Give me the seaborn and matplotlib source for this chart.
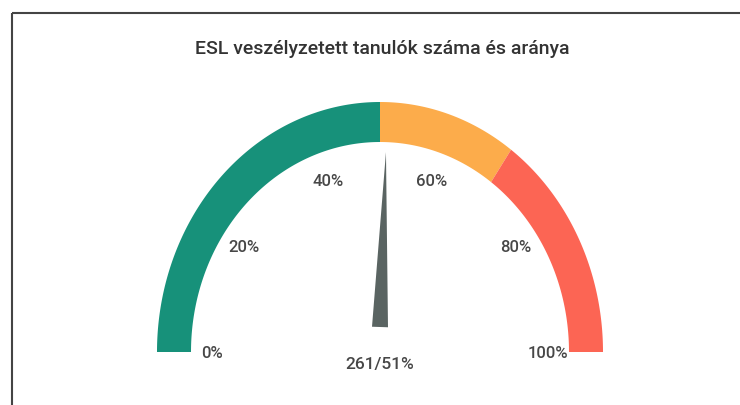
import numpy as np
import matplotlib
matplotlib.use("Agg")
import matplotlib.pyplot as plt
import seaborn as sns

# ---- data ----
title = "ESL veszélyzetett tanulók száma és aránya"
segment_bounds = [0, 50, 70, 100]          # percent
segment_colors = ["#17917a", "#fcac4b", "#fc6554"]
tick_values = [0, 20, 40, 60, 80, 100]
tick_labels = ["0%", "20%", "40%", "60%", "80%", "100%"]
value_count = 261
value_pct = 51

# ---- style ----
sns.set_theme(style="white")
plt.rcParams["font.family"] = ["Roboto", "DejaVu Sans"]

fig = plt.figure(figsize=(7.4, 4.05), dpi=100)
ax = fig.add_axes([0, 0, 1, 1])
ax.set_xlim(0, 740)
ax.set_ylim(405, 0)
ax.axis("off")

# gauge geometry (pixel-like layout units)
cx, cy = 380, 352
rx_out, ry_out = 223, 250
rx_in, ry_in = 189, 210

def ang(p):
    return np.pi * (1 - p / 100.0)

for lo, hi, col in zip(segment_bounds[:-1], segment_bounds[1:], segment_colors):
    t = np.linspace(ang(lo), ang(hi), 200)
    xo = cx + rx_out * np.cos(t)
    yo = cy - ry_out * np.sin(t)
    xi = cx + rx_in * np.cos(t[::-1])
    yi = cy - ry_in * np.sin(t[::-1])
    ax.fill(np.r_[xo, xi], np.r_[yo, yi], color=col, lw=0, antialiased=True)

# tick labels
for v, lab in zip(tick_values, tick_labels):
    t = ang(v)
    ax.text(cx + 168 * np.cos(t), cy + 1 - 180 * np.sin(t), lab,
            ha="center", va="center", fontsize=12, color="#474747",
            fontweight="medium")

# needle
t = ang(value_pct)
bx, by = cx, cy - 25
tipx, tipy = cx + 190 * np.cos(t), cy - 200 * np.sin(t)
dx, dy = tipx - bx, tipy - by
L = np.hypot(dx, dy)
px, py = -dy / L, dx / L
hw = 8
ax.fill([bx + px * hw, tipx, bx - px * hw], [by + py * hw, tipy, by - py * hw],
        color="#5a6462", lw=0)

# value label
ax.text(cx, 365, f"{value_count}/{value_pct}%", ha="center", va="center",
        fontsize=12.5, color="#474747", fontweight="medium")

# title
ax.text(382, 49, title, ha="center", va="center", fontsize=14, color="#333333",
        fontweight="medium")

# frame lines (top and left)
ax.plot([12, 740], [13, 13], color="#444444", lw=1.5, solid_capstyle="butt")
ax.plot([12, 12], [13, 405], color="#444444", lw=1.5, solid_capstyle="butt")

fig.savefig("out.png", dpi=100, facecolor="white")
